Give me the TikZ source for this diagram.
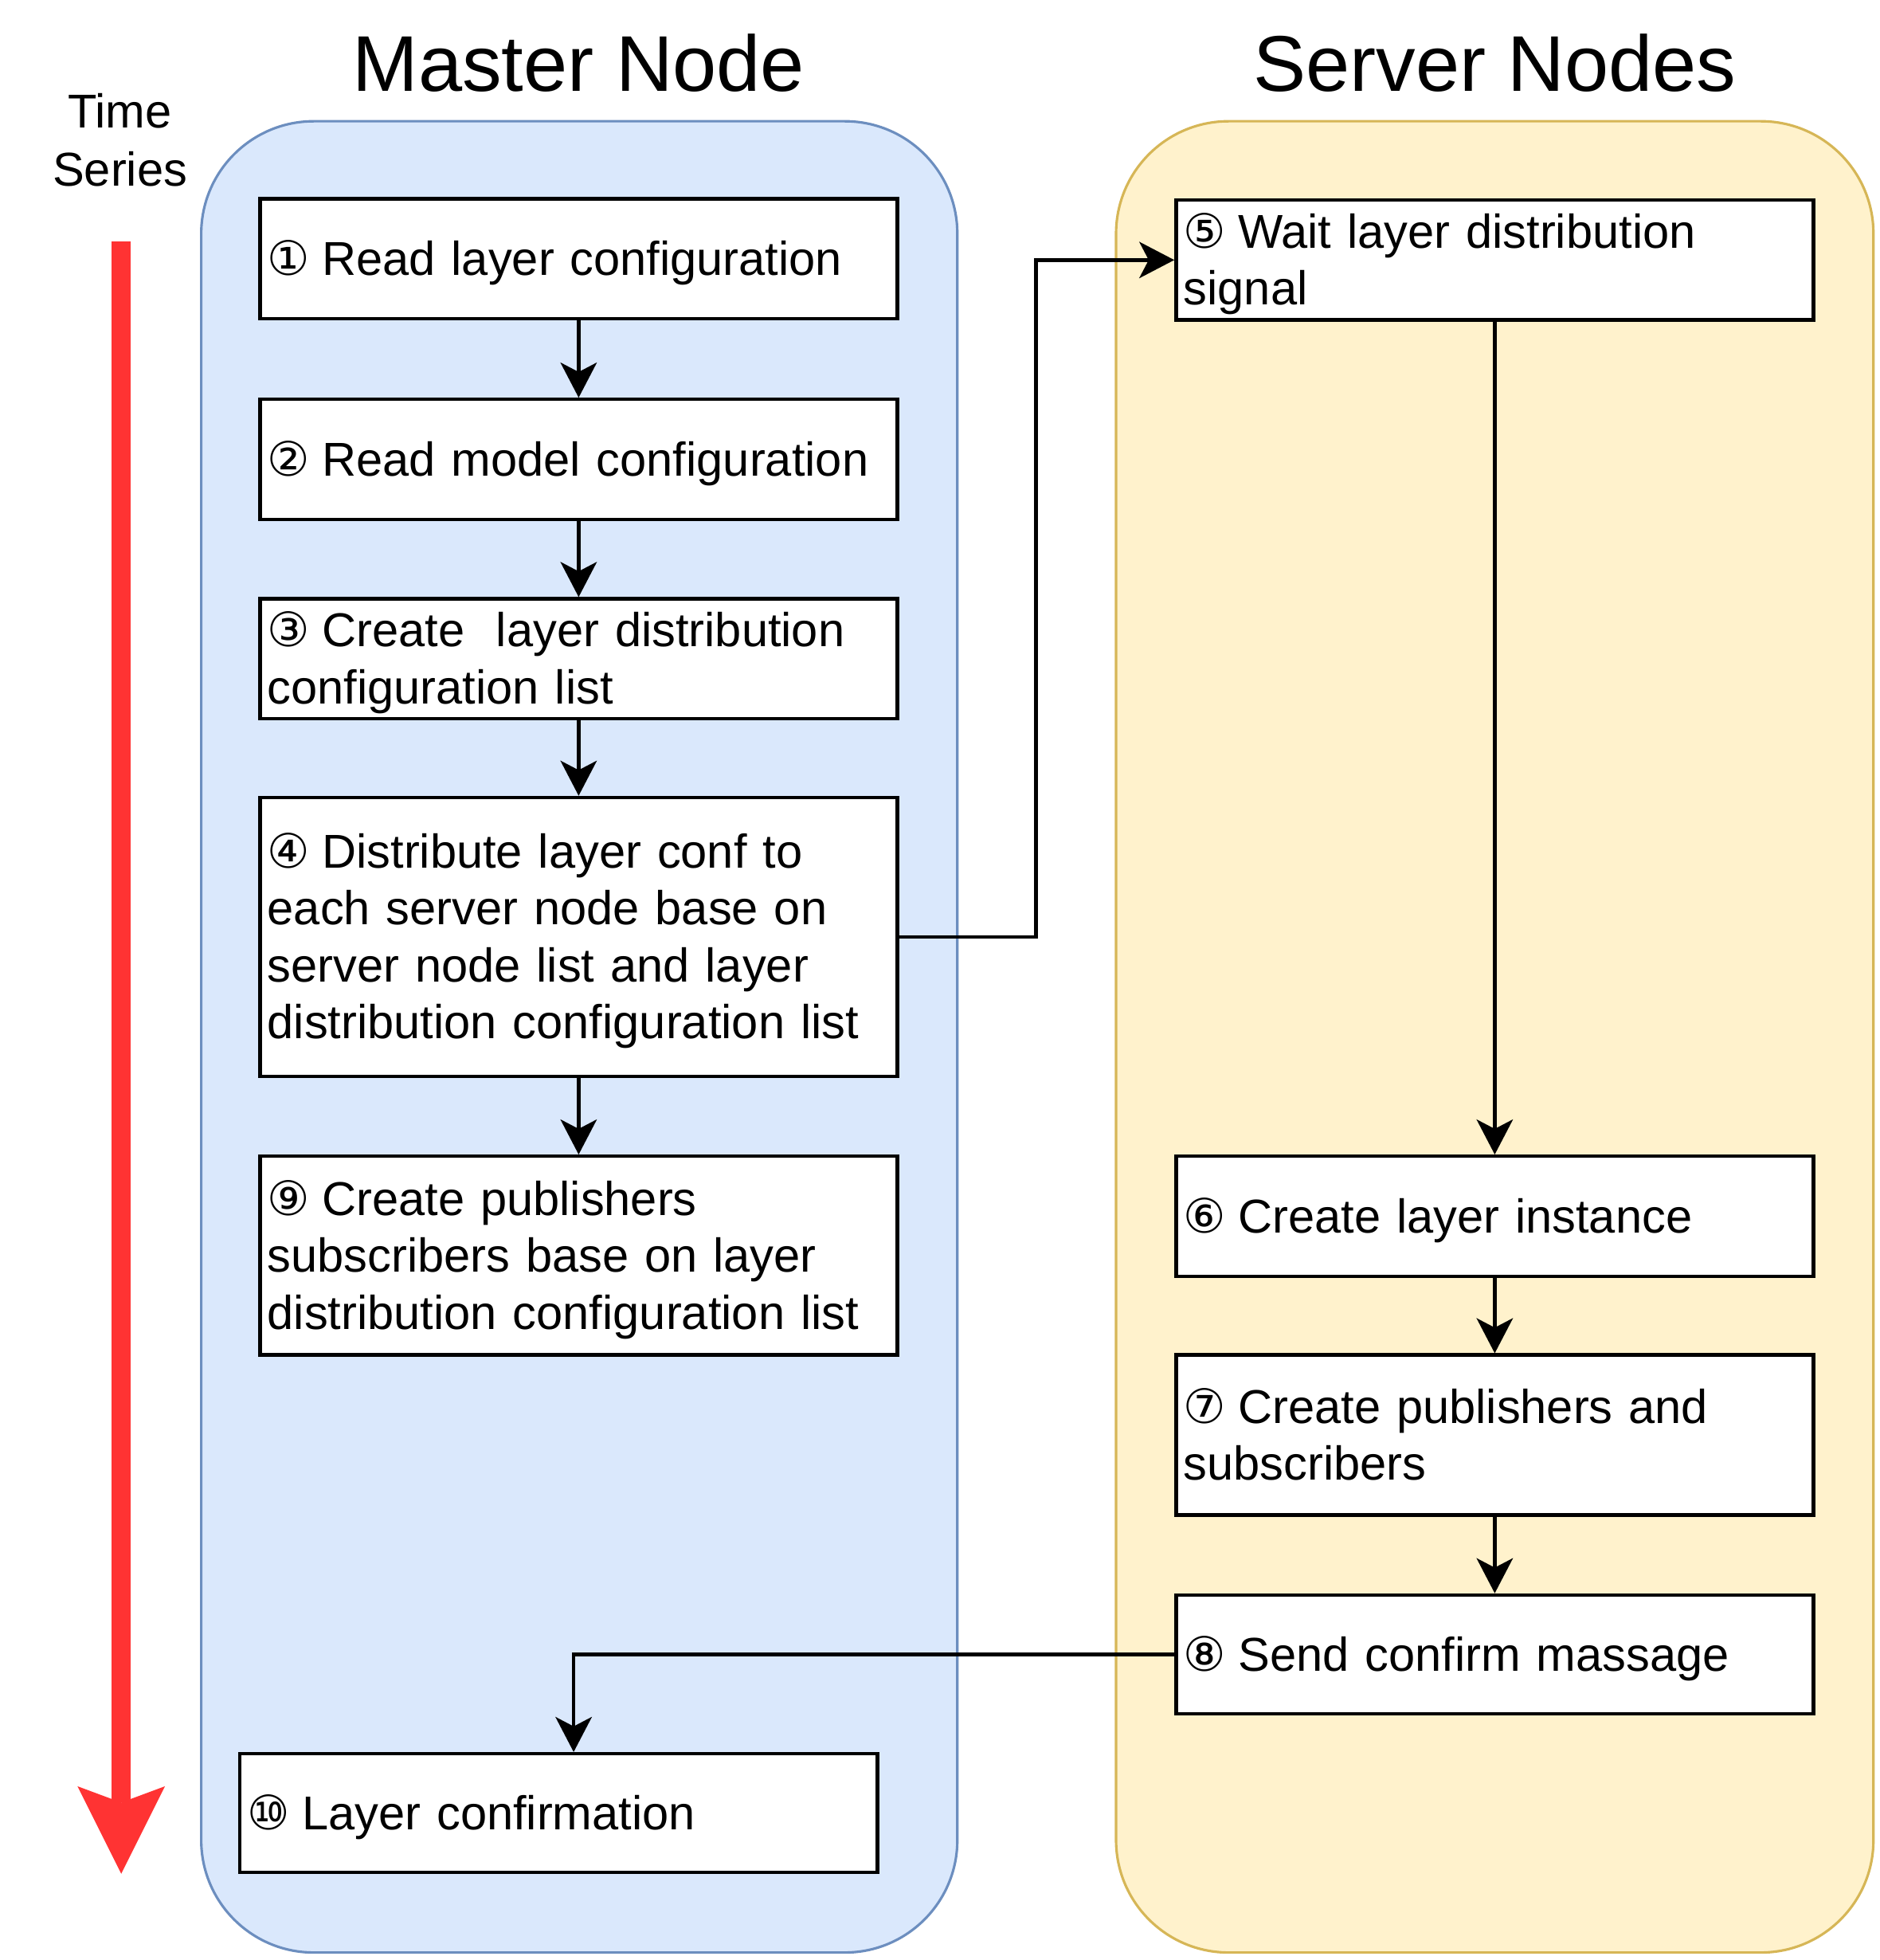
\documentclass[tikz,border=0pt]{standalone}
\usepackage{fontspec}
\setmainfont{Liberation Sans}
\newfontfamily\circfont{DejaVu Sans}
\usetikzlibrary{arrows.meta}
\definecolor{mfill}{HTML}{DAE8FC}
\definecolor{mline}{HTML}{6C8EBF}
\definecolor{sfill}{HTML}{FFF2CC}
\definecolor{sline}{HTML}{D6B656}
\definecolor{tred}{HTML}{FF3333}
\newcommand\cnum[1]{\rule[-4.8pt]{0pt}{22.8pt}{\circfont #1}\kern-1.5pt\relax}
\newcommand\ls{\rule[-4.8pt]{0pt}{22.8pt}}
\begin{document}
\begin{tikzpicture}[x=0.5pt,y=-0.5pt,
  container/.style={rectangle, rounded corners=45pt, line width=1pt, minimum width=302.5pt, minimum height=732.5pt, inner sep=0pt},
  stepbox/.style={rectangle, draw=black, line width=1.4pt, fill=white, text width=249pt, inner xsep=3pt, inner ysep=0pt, align=left, font=\fontsize{19pt}{22.8pt}\selectfont, minimum height=48pt},
  heading/.style={font=\fontsize{31.6pt}{38pt}\selectfont, inner sep=0pt, anchor=base},
  small/.style={font=\fontsize{19pt}{22.8pt}\selectfont, inner sep=0pt, anchor=base},
  flow/.style={draw=black, line width=1.4pt, -{Stealth[length=14pt,width=14.5pt,inset=3.75pt]}},
  timeline/.style={draw=tred, line width=7.5pt, -{Stealth[length=35pt,width=35pt,inset=6.5pt,line width=0pt]}}
]
\useasboundingbox (0,0) rectangle (1504,1568);
% containers
\node[container, draw=mline, fill=mfill] (master) at (463.5,829.5) {};
\node[container, draw=sline, fill=sfill, minimum width=303pt] (server) at (1196,829.5) {};
% headings
\node[heading] (mt) at (463,73) {Master Node};
\node[heading] (st) at (1196,73) {Server Nodes};
\node[small] (time) at (96,102) {Time};
\node[small] (series) at (96,149) {Series};
% time arrow
\coordinate (ts) at (97,193);
\coordinate (te) at (97,1499);
\draw[timeline] (ts) -- (te);
% master steps
\node[stepbox] (b1) at (463,207) {\cnum{①} Read layer configuration};
\node[stepbox] (b2) at (463,367.5) {\cnum{②} Read model configuration};
\node[stepbox] (b3) at (463,527) {\cnum{③} Create\ \ layer distribution\\\ls configuration list};
\node[stepbox, minimum height=111.5pt] (b4) at (463,749.5) {\cnum{④} Distribute layer conf to\\\ls each server node base on\\\ls server node list and layer\\\ls distribution configuration list};
\node[stepbox, minimum height=79.5pt] (b9) at (463,1004.5) {\cnum{⑨} Create publishers\\\ls subscribers base on layer\\\ls distribution configuration list};
\node[stepbox, minimum height=47.5pt] (b10) at (447,1450.5) {\cnum{⑩} Layer confirmation};
% server steps
\node[stepbox] (b5) at (1196,208) {\cnum{⑤} Wait layer distribution\\\ls signal};
\node[stepbox] (b6) at (1196,973) {\cnum{⑥} Create layer instance};
\node[stepbox, minimum height=64pt] (b7) at (1196,1148) {\cnum{⑦} Create publishers and\\\ls subscribers};
\node[stepbox, minimum height=47.5pt] (b8) at (1196,1323.5) {\cnum{⑧} Send confirm massage};
% connectors
\draw[flow] (b1.south) -- (b2.north);
\draw[flow] (b2.south) -- (b3.north);
\draw[flow] (b3.south) -- (b4.north);
\draw[flow] (b4.south) -- (b9.north);
\coordinate (elb) at (829,0);
\draw[flow] (b4.east) -- (b4.east -| elb) -- (elb |- b5.west) -- (b5.west);
\draw[flow] (b5.south) -- (b6.north);
\draw[flow] (b6.south) -- (b7.north);
\draw[flow] (b7.south) -- (b8.north);
\coordinate (drop) at (459,0);
\draw[flow] (b8.west) -- (b8.west -| drop) -- (drop |- b10.north);
\end{tikzpicture}
\end{document}
